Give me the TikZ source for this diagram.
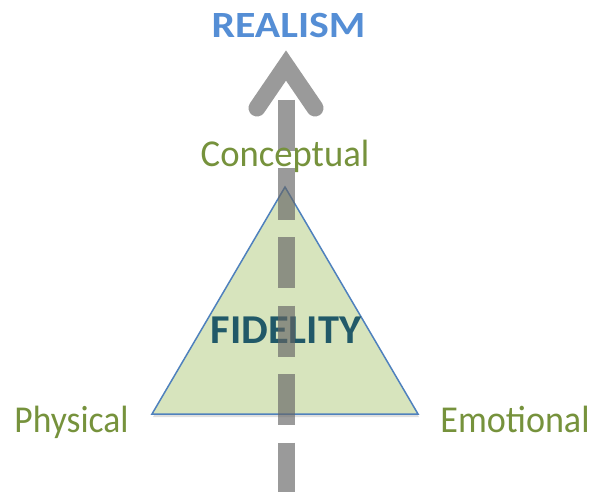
\documentclass[tikz,border=0pt]{standalone}
\usepackage{fontspec}
\usepackage{graphicx}
\setmainfont{Carlito}
\usetikzlibrary{shadows}
\definecolor{triFill}{RGB}{215,228,189}
\definecolor{triLine}{RGB}{79,129,189}
\definecolor{olive}{RGB}{118,146,60}
\definecolor{realBlue}{RGB}{85,142,213}
\definecolor{fidTeal}{RGB}{33,89,104}
\definecolor{arrowGray}{RGB}{100,100,100}
\tikzset{
  greenlabel/.style={anchor=base, text=olive, inner sep=0pt, font=\fontsize{38bp}{42bp}\selectfont},
  boldlabel/.style={anchor=base, inner sep=0pt},
  shaft/.style={draw=arrowGray, draw opacity=0.65, line width=17bp, dash pattern=on 51bp off 17.5bp},
  chevron/.style={draw=arrowGray, draw opacity=0.65, line width=17bp, line cap=round, line join=miter}
}
\begin{document}
\begin{tikzpicture}[x=1bp,y=-1bp]
\useasboundingbox (0,0) rectangle (593,492);
% triangle
\path[fill=triFill, draw=triLine, line width=1.5bp, line join=miter,
  drop shadow={shadow xshift=1bp, shadow yshift=-3bp, opacity=0.25}]
  (152,414) coordinate (L) -- (285,187) coordinate (T) -- (418,414) coordinate (R) -- cycle;
\node[boldlabel, text=fidTeal, font=\fontsize{41bp}{44bp}\selectfont\bfseries] (fid) at (286,343) {\scalebox{1.035}[1]{FIDELITY}};
% realism axis
\coordinate (shaftTop) at (286,100);
\coordinate (shaftBot) at (286,495);
\draw[shaft] (shaftTop) -- (shaftBot);
\coordinate (chevL) at (257,108);
\coordinate (chevTip) at (286,65.5);
\coordinate (chevR) at (315,108);
\draw[chevron] (chevL) -- (chevTip) -- (chevR);
% labels
\node[boldlabel, text=realBlue, font=\fontsize{37bp}{40bp}\selectfont\bfseries] (realism) at (288.5,37.3) {\scalebox{1.13}[1]{REALISM}};
\node[greenlabel] (conc) at (285,166.7) {\scalebox{0.965}[1]{Conceptual}};
\node[greenlabel] (phys) at (71.5,432) {\scalebox{0.935}[1]{Physical}};
\node[greenlabel] (emo) at (515,432) {\scalebox{0.95}[1]{Emotional}};
\end{tikzpicture}
\end{document}
